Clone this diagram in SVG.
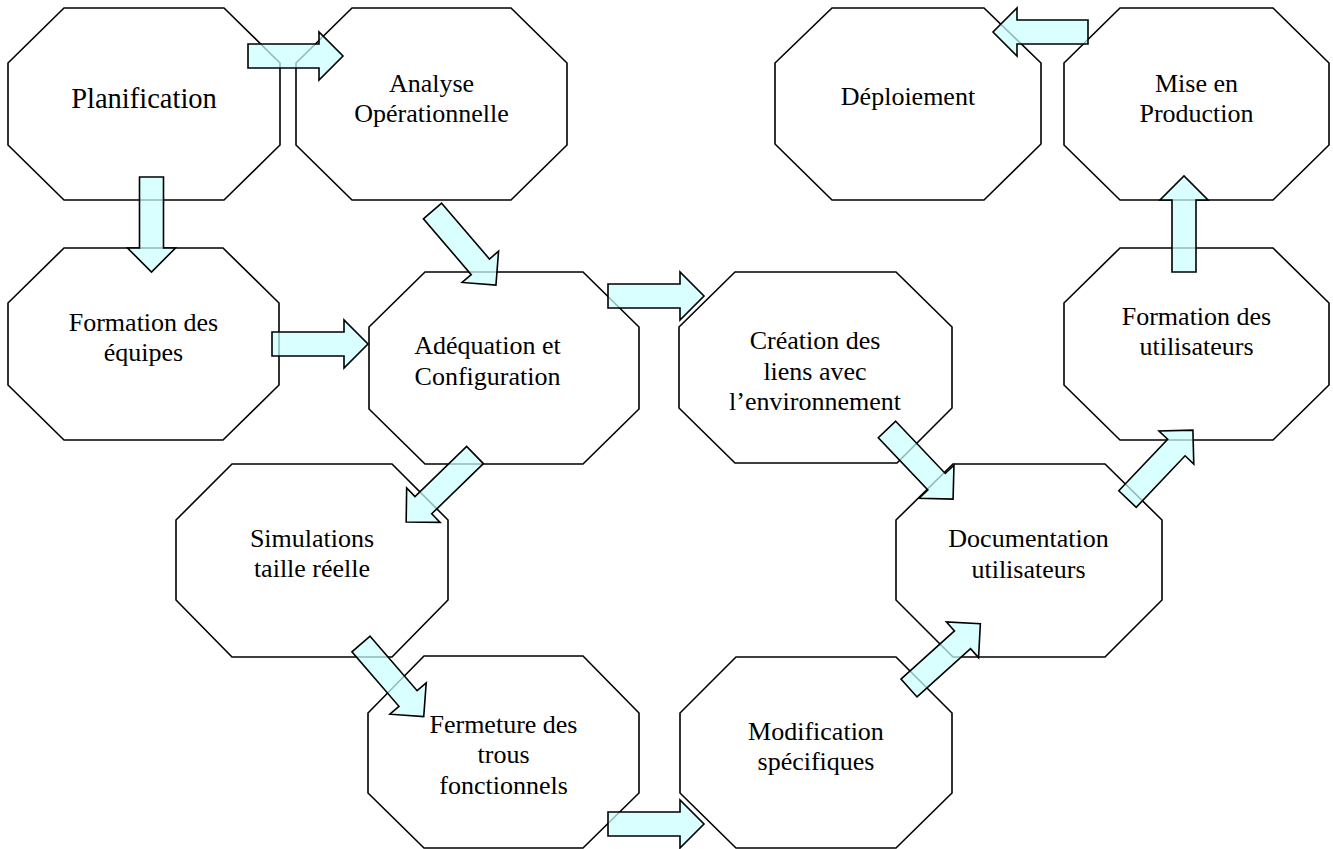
<svg xmlns="http://www.w3.org/2000/svg" width="1333" height="849" viewBox="0 0 1333 849">
<style>
.oct{fill:#fff;stroke:#000;stroke-width:1.6;stroke-linejoin:miter}
.arr{fill:#CCFFFF;fill-opacity:0.72;stroke:#000;stroke-width:1.6;stroke-linejoin:miter}
text{font-family:"Liberation Serif","Times New Roman",serif;font-size:26px;fill:#000;text-anchor:middle}
.big{font-size:28.5px}
</style>
<rect width="1333" height="849" fill="#fff"/>
<g id="n-planification"><polygon class="oct" points="64,8 224,8 280,63 280,145 224,200 64,200 8,145 8,63"/><text class="big" x="144" y="108">Planification</text></g>
<g id="n-analyse"><polygon class="oct" points="352,8 511,8 567,63 567,145 511,200 352,200 296,145 296,63"/><text x="431.5" y="92">Analyse</text><text x="431.5" y="122">Opérationnelle</text></g>
<g id="n-formation-equipes"><polygon class="oct" points="64,248 223,248 279,303 279,385 223,440 64,440 8,385 8,303"/><text x="143.5" y="331">Formation des</text><text x="143.5" y="361">équipes</text></g>
<g id="n-adequation"><polygon class="oct" points="425,272 583,272 639,327 639,409 583,464 425,464 369,409 369,327"/><text x="487.5" y="354">Adéquation et</text><text x="487.5" y="385">Configuration</text></g>
<g id="n-creation"><polygon class="oct" points="735,272 896,272 952,327 952,408 897,463 735,463 679,408 679,327"/><text x="815" y="349">Création des</text><text x="815" y="380">liens avec</text><text x="815" y="410">l’environnement</text></g>
<g id="n-simulations"><polygon class="oct" points="232,464 392,464 448,520 448,600 392,657 232,657 176,600 176,520"/><text x="312" y="547">Simulations</text><text x="312" y="577">taille réelle</text></g>
<g id="n-fermeture"><polygon class="oct" points="424,656 583,656 639,713 639,793 583,848 424,848 368,793 368,713"/><text x="503.5" y="733">Fermeture des</text><text x="503.5" y="763">trous</text><text x="503.5" y="794">fonctionnels</text></g>
<g id="n-modification"><polygon class="oct" points="736,657 896,657 952,713 952,793 896,848 736,848 680,793 680,713"/><text x="816" y="740">Modification</text><text x="816" y="770">spécifiques</text></g>
<g id="n-documentation"><polygon class="oct" points="953,464 1105,464 1162,520 1162,600 1105,657 953,657 896,600 896,520"/><text x="1028.5" y="547">Documentation</text><text x="1028.5" y="578">utilisateurs</text></g>
<g id="n-formation-utilisateurs"><polygon class="oct" points="1120,248 1273,248 1329,303 1329,385 1273,440 1120,440 1064,385 1064,303"/><text x="1196.5" y="325">Formation des</text><text x="1196.5" y="355">utilisateurs</text></g>
<g id="n-deploiement"><polygon class="oct" points="832,8 984,8 1041,63 1041,144 984,200 832,200 775,144 775,63"/><text x="908" y="105">Déploiement</text></g>
<g id="n-mise"><polygon class="oct" points="1120,8 1273,8 1329,63 1329,145 1273,200 1120,200 1064,145 1064,63"/><text x="1196.5" y="92">Mise en</text><text x="1196.5" y="122">Production</text></g>
<g id="connectors">
<path class="arr" transform="translate(248,56)" d="M0,-12 H71 V-24 L95,0 L71,24 V12 H0 Z"/>
<path class="arr" transform="translate(151.5,177) rotate(90)" d="M0,-12 H71 V-24 L95,0 L71,24 V12 H0 Z"/>
<path class="arr" transform="translate(432.5,211) rotate(49.4)" d="M0,-12 H73.5 V-24 L97.5,0 L73.5,24 V12 H0 Z"/>
<path class="arr" transform="translate(272,344)" d="M0,-12 H72 V-24 L96,0 L72,24 V12 H0 Z"/>
<path class="arr" transform="translate(608,296)" d="M0,-12 H72 V-24 L96,0 L72,24 V12 H0 Z"/>
<path class="arr" transform="translate(475,455) rotate(135.8)" d="M0,-12 H72 V-24 L96,0 L72,24 V12 H0 Z"/>
<path class="arr" transform="translate(361,644) rotate(49.2)" d="M0,-12 H72 V-24 L96,0 L72,24 V12 H0 Z"/>
<path class="arr" transform="translate(608,824)" d="M0,-12 H72 V-24 L96,0 L72,24 V12 H0 Z"/>
<path class="arr" transform="translate(909,688) rotate(-42)" d="M0,-12 H72 V-24 L96,0 L72,24 V12 H0 Z"/>
<path class="arr" transform="translate(887,429.5) rotate(46.5)" d="M0,-12 H72 V-24 L96,0 L72,24 V12 H0 Z"/>
<path class="arr" transform="translate(1127.5,499) rotate(-46.5)" d="M0,-12 H71 V-24 L95,0 L71,24 V12 H0 Z"/>
<path class="arr" transform="translate(1184,272) rotate(-90)" d="M0,-12 H72 V-24 L96,0 L72,24 V12 H0 Z"/>
<path class="arr" transform="translate(1088,32) rotate(180)" d="M0,-12 H71 V-24 L95,0 L71,24 V12 H0 Z"/>
</g>
</svg>
